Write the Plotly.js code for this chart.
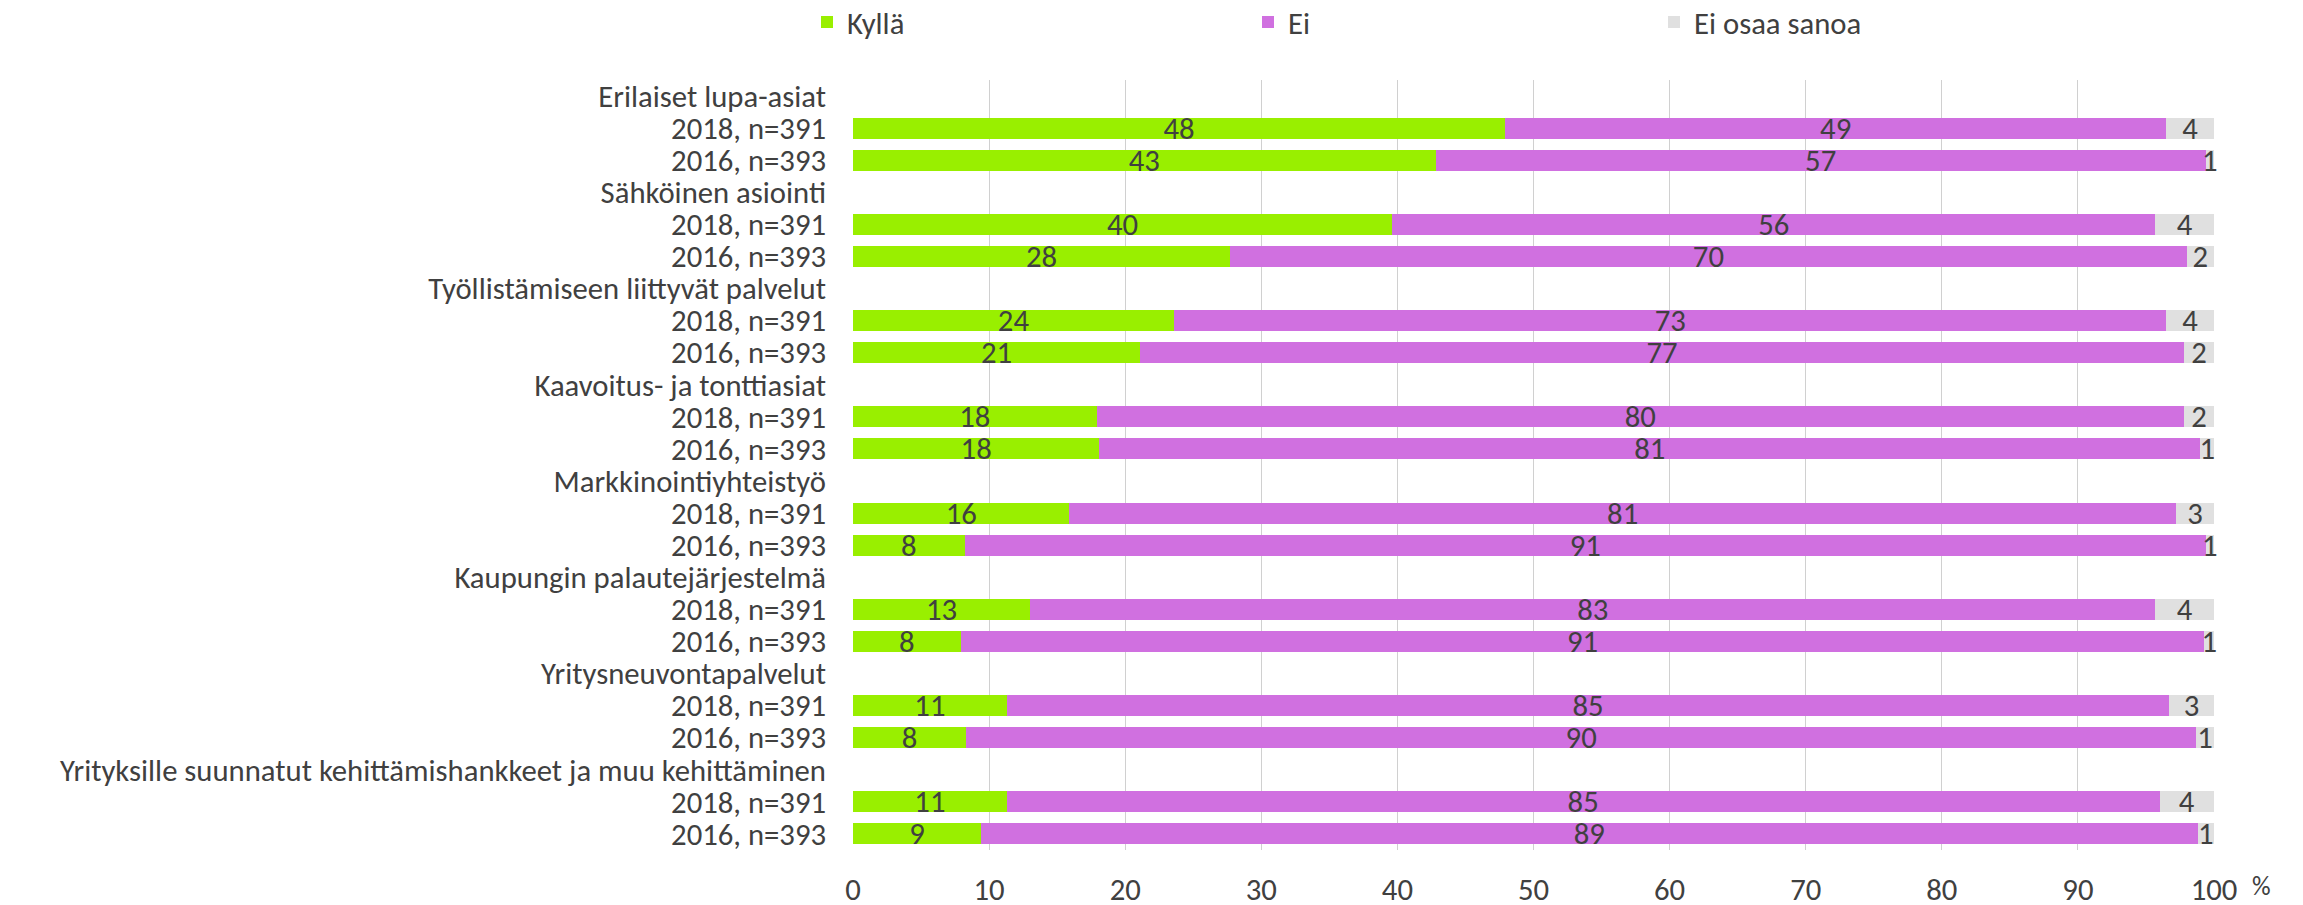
<!DOCTYPE html>
<html><head><meta charset="utf-8">
<script src="https://cdn.plot.ly/plotly-3.0.1.min.js"></script>
<style>html,body{margin:0;padding:0;background:#fff;overflow:hidden;} #chart{width:2303px;height:905px;}</style>
</head><body><div id="chart"></div>
<script>
const groups = ["Erilaiset lupa-asiat","Sähköinen asiointi","Työllistämiseen liittyvät palvelut","Kaavoitus- ja tonttiasiat","Markkinointiyhteistyö","Kaupungin palautejärjestelmä","Yritysneuvontapalvelut","Yrityksille suunnatut kehittämishankkeet ja muu kehittäminen"];
const years = ["2018, n=391","2016, n=393"];
const seriesNames = ["Kyllä","Ei","Ei osaa sanoa"];
const kylla2018 = [47.9,39.6,23.6,17.9,15.9,13.0,11.3,11.3];
const ei2018    = [48.6,56.1,72.9,79.9,81.3,82.7,85.4,84.7];
const eos2018   = [3.5,4.3,3.5,2.2,2.8,4.3,3.3,4.0];
const kylla2016 = [42.8,27.7,21.1,18.1,8.2,7.9,8.3,9.4];
const ei2016    = [56.6,70.3,76.7,80.9,91.2,91.4,90.4,89.4];
const eos2016   = [0.6,2.0,2.2,1.0,0.6,0.7,1.3,1.2];
const xTicks = [0,10,20,30,40,50,60,70,80,90,100];

const FONT = "Carlito, 'Liberation Sans Narrow', Lato, sans-serif";
const TXT = '#404040';
const FS = 30.7;
const colors = ['#99ef00', '#d070e0', '#e0e0e0'];

const rowIdx = [], rowLabels = [];
const s2018 = [kylla2018, ei2018, eos2018];
const s2016 = [kylla2016, ei2016, eos2016];
const seriesX = [[], [], []];
groups.forEach((g, i) => {
  rowLabels.push(g, years[0], years[1]);
  for (let k = 0; k < 3; k++) {
    seriesX[k].push(null, s2018[k][i], s2016[k][i]);
  }
});
for (let i = 0; i < rowLabels.length; i++) rowIdx.push(i);

const legendIds = ['legend', 'legend2', 'legend3'];
const traces = seriesNames.map((name, k) => ({
  type: 'bar', orientation: 'h', name: name,
  x: seriesX[k], y: rowIdx,
  marker: {color: colors[k], line: {width: 0}},
  texttemplate: '%{x:.0f}', textposition: 'inside', insidetextanchor: 'middle',
  textangle: 0, constraintext: 'none', cliponaxis: false,
  insidetextfont: {family: FONT, size: FS, color: TXT},
  textfont: {family: FONT, size: FS, color: TXT},
  legend: legendIds[k], hoverinfo: 'skip'
}));

const legendX = [807, 1248, 1654];
const legendCommon = (px) => ({
  xref: 'container', yref: 'container', x: px / 2303, y: 1 - 22 / 905, xanchor: 'left', yanchor: 'middle',
  orientation: 'h', font: {family: FONT, size: FS, color: TXT}, bgcolor: 'rgba(0,0,0,0)', borderwidth: 0
});

const layout = {
  width: 2303, height: 905,
  margin: {l: 853, r: 89, t: 80, b: 55, pad: 0},
  paper_bgcolor: '#ffffff', plot_bgcolor: '#ffffff',
  barmode: 'stack', bargap: 0.345,
  font: {family: FONT, size: FS, color: TXT},
  showlegend: true,
  legend: legendCommon(legendX[0]),
  legend2: legendCommon(legendX[1]),
  legend3: legendCommon(legendX[2]),
  xaxis: {
    range: [0, 100.001], tickmode: 'array', tickvals: xTicks, ticktext: xTicks.map(String),
    showgrid: true, gridcolor: '#d0d0d0', gridwidth: 1, zeroline: false, showline: false,
    ticks: '', ticklabelstandoff: 18, tickfont: {family: FONT, size: FS, color: TXT}, fixedrange: true
  },
  yaxis: {
    range: [rowLabels.length - 0.5, -0.5], tickmode: 'array', tickvals: rowIdx, ticktext: rowLabels,
    showgrid: false, zeroline: false, showline: false, ticks: '', ticklabelstandoff: 26,
    tickfont: {family: FONT, size: FS, color: TXT}, fixedrange: true
  },
  annotations: [{
    text: '%', xref: 'paper', yref: 'paper', x: 1, y: 0, xanchor: 'left', yanchor: 'middle',
    xshift: 36, yshift: -36, showarrow: false, font: {family: FONT, size: 26, color: TXT}
  }]
};

Plotly.newPlot('chart', traces, layout, {displayModeBar: false, staticPlot: true});
</script>
</body></html>
